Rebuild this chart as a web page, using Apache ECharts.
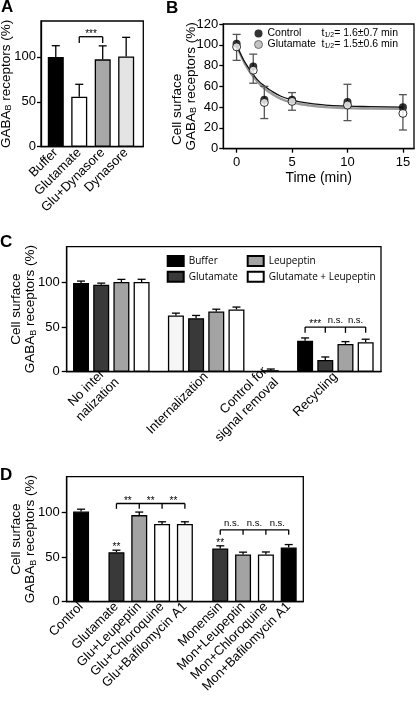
<!DOCTYPE html>
<html>
<head>
<meta charset="utf-8">
<script src="https://cdn.jsdelivr.net/npm/echarts@6.0.0/dist/echarts.min.js"></script>
<style>
html,body{margin:0;padding:0;background:#fff;}
#chart{width:416px;height:701px;}
</style>
</head>
<body>
<div id="chart"></div>
<script>
// ---------- Panel A ----------
const aCategories = ['Buffer', 'Glutamate', 'Glu+Dynasore', 'Dynasore'];
const aValues = [100, 55.7, 97.3, 100.5];
const aErrors = [12.5, 13.8, 15, 21.3];
const aSigLabels = ['***'];

// ---------- Panel B ----------
const bTimes = [0, 1.5, 2.5, 5, 10, 15];
const bControl = [101, 79, 47, 47, 45, 40];
const bGlutamate = [98, 75.5, 44.5, 45.5, 42, 34];
const bErrLow = [85, 63, 29, 37, 27, 18];
const bErrHigh = [110, 91, 60, 54, 62, 52];
const bFitTimes = [0, 0.5, 1, 1.5, 2, 2.5, 3, 4, 5, 6, 8, 10, 12, 15];
const bFitControl = [100, 88, 79, 71.5, 65, 60.5, 56.5, 50.5, 47, 44.5, 42, 41, 40.5, 40];
const bFitGlutamate = [100, 87, 77, 69.5, 63, 58, 54, 48, 44.5, 42.5, 40, 39, 38.7, 38.5];
const bSeriesNames = ['Control', 'Glutamate'];
const bHalfLives = ['1.6±0.7', '1.5±0.6'];
const bTimeTicks = [0, 5, 10, 15];
const bPercentTicks = [0, 20, 40, 60, 80, 100, 120];

// ---------- Panel C ----------
const cGroups = ['No inter-\nnalization', 'Internalization', 'Control for\nsignal removal', 'Recycling'];
const cSeriesNames = ['Buffer', 'Glutamate', 'Leupeptin', 'Glutamate + Leupeptin'];
const cBuffer = [99.3, 63, 1.7, 34.8];
const cGlutamate = [97.4, 60, null, 13.1];
const cLeupeptin = [100.4, 67.4, null, 31.1];
const cGluLeu = [100.5, 69.7, null, 33];
const cBufferErr = [2.2, 2.6, 1.3, 3];
const cGlutamateErr = [1.8, 3, null, 3.4];
const cLeupeptinErr = [3, 2.6, null, 2.6];
const cGluLeuErr = [3, 2.7, null, 3.4];
const cSigLabels = ['***', 'n.s.', 'n.s.'];

// ---------- Panel D ----------
const dGroups = [
  ['Control'],
  ['Glutamate', 'Glu+Leupeptin', 'Glu+Chloroquine', 'Glu+Bafilomycin A1'],
  ['Monensin', 'Mon+Leupeptin', 'Mon+Chloroquine', 'Mon+Bafilomycin A1']
];
const dValues = [101, 55.4, 97, 87, 87, 59.6, 52.8, 52.8, 60.7];
const dErrors = [2.6, 2.3, 3.4, 2.5, 2.5, 3, 2.7, 2.9, 3.3];
const dGluSigLabels = ['**', '**', '**'];
const dMonSigLabels = ['n.s.', 'n.s.', 'n.s.'];
const dBarSig = ['', '**', '', '', '', '**', '', '', ''];

const percentTicks = [0, 50, 100];

// ---------- styles ----------
const FONT = '"Liberation Sans", Arial, Helvetica, sans-serif';
const LW = 1.3;
const aColors = ['#000000', '#ffffff', '#a8a8a8', '#e4e4e4'];
const cColors = ['#000000', '#393939', '#a3a3a3', '#ffffff'];
const cLightBar = { series: 0, group: 1, color: '#f6f6f6' };
const dColors = ['#000000', '#393939', '#a3a3a3', '#ffffff', '#f8f8f8', '#393939', '#a3a3a3', '#ffffff', '#000000'];

// ---------- layout (positions along value axes) ----------
const aPos = aCategories.map((_, i) => i);

const C_GAP = 0.7;
const cVals = [cBuffer, cGlutamate, cLeupeptin, cGluLeu];
const cErrs = [cBufferErr, cGlutamateErr, cLeupeptinErr, cGluLeuErr];
const cPos = cVals.map(() => []);
const cGroupCenters = [];
const cGroupPositions = [];
let cx = 0;
cGroups.forEach((_, gi) => {
  const ps = [];
  cVals.forEach((vals, si) => {
    if (vals[gi] != null) { cPos[si][gi] = cx; ps.push(cx); cx += 1; }
  });
  cGroupPositions.push(ps);
  cGroupCenters.push((ps[0] + ps[ps.length - 1]) / 2);
  cx += C_GAP;
});

const D_GAP = 0.55;
const dCategories = [].concat(...dGroups);
const dPos = [];
const dGroupPositions = [];
let dx = 0;
dGroups.forEach(g => {
  const ps = [];
  g.forEach(() => { dPos.push(dx); ps.push(dx); dx += 1; });
  dGroupPositions.push(ps);
  dx += D_GAP;
});

// ---------- helpers ----------
function labelFor(positions, names) {
  return v => {
    const i = positions.findIndex(p => Math.abs(p - v) < 1e-6);
    return i >= 0 ? names[i] : '';
  };
}
const lineStyle = { color: '#000', width: LW };
const tickText = { fontSize: 13, fontFamily: FONT, color: '#000' };
const nameRich = {
  a: { fontSize: 13.5, fontFamily: FONT, color: '#000', lineHeight: 14 },
  c: { fontSize: 13.5, fontFamily: FONT, color: '#000', lineHeight: 14 },
  cb: { fontSize: 13.5, fontFamily: FONT, color: '#000', lineHeight: 14, padding: [0, 46, 0, 0] },
  s: { fontSize: 9, fontFamily: FONT, color: '#000', lineHeight: 5, verticalAlign: 'bottom' }
};
const gabaName = '{a|GABA}{s|B}{a| receptors (%)}';

function errSeries(gi, data, color, capBoth, z) {
  return {
    type: 'custom', xAxisIndex: gi, yAxisIndex: gi, data: data, silent: true, z: z || 3,
    encode: { x: 0, y: [1, 2] },
    renderItem(params, api) {
      const x = api.value(0);
      const p1 = api.coord([x, api.value(1)]);
      const p2 = api.coord([x, api.value(2)]);
      const hw = 4;
      const st = { stroke: color, lineWidth: LW };
      const ch = [
        { type: 'line', shape: { x1: p1[0], y1: p1[1], x2: p2[0], y2: p2[1] }, style: st },
        { type: 'line', shape: { x1: p2[0] - hw, y1: p2[1], x2: p2[0] + hw, y2: p2[1] }, style: st }
      ];
      if (capBoth) ch.push({ type: 'line', shape: { x1: p1[0] - hw, y1: p1[1], x2: p1[0] + hw, y2: p1[1] }, style: st });
      return { type: 'group', children: ch };
    }
  };
}

function textEl(x, y, t) {
  const isStar = t.indexOf('*') >= 0;
  return {
    type: 'text', x: x, y: y + (isStar ? -2.5 : -6.5),
    style: {
      text: t, fill: '#000', font: (isStar ? '10px ' : '9.5px ') + FONT,
      align: 'center', verticalAlign: 'middle', textAlign: 'center', textVerticalAlign: 'middle'
    }
  };
}

function bracketSeries(gi, brackets) {
  return {
    type: 'custom', xAxisIndex: gi, yAxisIndex: gi, silent: true, z: 4,
    data: brackets.map(b => [b.xs[0], b.y]),
    encode: { x: 0, y: 1 },
    renderItem(params, api) {
      const b = brackets[params.dataIndex];
      const top = b.xs.map(x => api.coord([x, b.y]));
      const bot = b.xs.map(x => api.coord([x, b.y - b.drop]));
      const st = { stroke: '#000', lineWidth: LW };
      const ch = [{ type: 'line', shape: { x1: top[0][0], y1: top[0][1], x2: top[top.length - 1][0], y2: top[0][1] }, style: st }];
      top.forEach((p, i) => ch.push({ type: 'line', shape: { x1: p[0], y1: p[1], x2: bot[i][0], y2: bot[i][1] }, style: st }));
      b.labels.forEach((t, i) => ch.push(textEl((top[i][0] + top[i + 1][0]) / 2, top[i][1], t)));
      return { type: 'group', children: ch };
    }
  };
}

function gridCfg(left, top, width, height) {
  return { left, top, width, height, show: true, borderColor: '#000', borderWidth: LW, backgroundColor: 'transparent', outerBoundsMode: 'none', containLabel: false };
}

function yCfg(gi, max, ticks, name, nameGap, tickLen, margin) {
  return {
    gridIndex: gi, type: 'value', min: 0, max: max,
    axisLine: { show: true, onZero: false, lineStyle },
    axisTick: { show: true, customValues: ticks, length: tickLen, lineStyle },
    axisLabel: Object.assign({ customValues: ticks, margin: margin }, tickText),
    splitLine: { show: false },
    name: name, nameLocation: 'middle', nameRotate: 90, nameGap: nameGap, nameMoveOverlap: false,
    nameTextStyle: { rich: nameRich }
  };
}

function xCatCfg(gi, min, max, positions, names, margin) {
  return {
    gridIndex: gi, type: 'value', min: min, max: max,
    axisLine: { show: true, onZero: false, lineStyle },
    axisTick: { show: false },
    splitLine: { show: false },
    axisLabel: Object.assign({ customValues: positions, formatter: labelFor(positions, names), rotate: 45, margin: margin, lineHeight: 16 }, tickText)
  };
}

// ---------- series ----------
const series = [];

// A
series.push({
  type: 'bar', name: 'A', xAxisIndex: 0, yAxisIndex: 0, barWidth: 16, barGap: '-100%',
  itemStyle: { borderColor: '#000', borderWidth: LW },
  data: aPos.map((x, i) => ({ value: [x, aValues[i]], itemStyle: { color: aColors[i] } }))
});
series.push(errSeries(0, aPos.map((x, i) => [x, aValues[i], aValues[i] + aErrors[i]]), '#000', false));
series.push(bracketSeries(0, [{ xs: [aPos[1], aPos[2]], y: 122.5, drop: 7, labels: aSigLabels }]));

// B
series.push({
  type: 'line', name: 'fitG', xAxisIndex: 1, yAxisIndex: 1, smooth: true, showSymbol: false, silent: true, z: 2,
  lineStyle: { color: '#9a9a9a', width: 2.4 },
  data: bFitTimes.map((t, i) => [t, bFitGlutamate[i]])
});
series.push({
  type: 'line', name: 'fitC', xAxisIndex: 1, yAxisIndex: 1, smooth: true, showSymbol: false, silent: true, z: 3,
  lineStyle: { color: '#111', width: 1.3 },
  data: bFitTimes.map((t, i) => [t, bFitControl[i]])
});
series.push(errSeries(1, bTimes.map((t, i) => [t, bErrLow[i], bErrHigh[i]]), '#555', true, 4));
series.push({
  type: 'scatter', name: 'bControl', xAxisIndex: 1, yAxisIndex: 1, symbol: 'circle', symbolSize: 8, z: 5,
  itemStyle: { color: '#000' },
  data: bTimes.map((t, i) => [t, bControl[i]])
});
series.push({
  type: 'scatter', name: 'bGlutamate', xAxisIndex: 1, yAxisIndex: 1, symbol: 'circle', symbolSize: 8, z: 6,
  itemStyle: { color: '#fff', borderColor: '#000', borderWidth: 1 },
  data: bTimes.map((t, i) => [t, bGlutamate[i]])
});

// C
cVals.forEach((vals, si) => {
  const data = [];
  vals.forEach((v, gi) => {
    if (v == null) return;
    const item = { value: [cPos[si][gi], v] };
    if (si === cLightBar.series && gi === cLightBar.group) item.itemStyle = { color: cLightBar.color };
    data.push(item);
  });
  series.push({
    type: 'bar', name: cSeriesNames[si], xAxisIndex: 2, yAxisIndex: 2, barWidth: 16, barGap: '-100%',
    itemStyle: { color: cColors[si], borderColor: '#000', borderWidth: LW },
    data: data
  });
  const edata = [];
  vals.forEach((v, gi) => { if (v != null) edata.push([cPos[si][gi], v, v + cErrs[si][gi]]); });
  series.push(errSeries(2, edata, '#000', false));
});
series.push(bracketSeries(2, [{ xs: cGroupPositions[3], y: 50, drop: 6.5, labels: cSigLabels }]));

// D
series.push({
  type: 'bar', name: 'D', xAxisIndex: 3, yAxisIndex: 3, barWidth: 16, barGap: '-100%',
  itemStyle: { borderColor: '#000', borderWidth: LW },
  data: dPos.map((x, i) => ({ value: [x, dValues[i]], itemStyle: { color: dColors[i] } }))
});
series.push(errSeries(3, dPos.map((x, i) => [x, dValues[i], dValues[i] + dErrors[i]]), '#000', false));
series.push(bracketSeries(3, [
  { xs: dGroupPositions[1], y: 110, drop: 6, labels: dGluSigLabels },
  { xs: dGroupPositions[2], y: 80.5, drop: 5.5, labels: dMonSigLabels }
]));
const dStarData = [];
dPos.forEach((x, i) => { if (dBarSig[i]) dStarData.push([x, dValues[i] + dErrors[i], i]); });
series.push({
  type: 'custom', xAxisIndex: 3, yAxisIndex: 3, silent: true, z: 4,
  data: dStarData, encode: { x: 0, y: 1 },
  renderItem(params, api) {
    const p = api.coord([api.value(0), api.value(1)]);
    return textEl(p[0], p[1], dBarSig[api.value(2)]);
  }
});

// ---------- option ----------
const bRich = {
  n: { width: 54, fontSize: 10.5, fontFamily: FONT, color: '#000', lineHeight: 11 },
  t: { fontSize: 10.5, fontFamily: FONT, color: '#000', lineHeight: 11 },
  s: { fontSize: 7, fontFamily: FONT, color: '#000', lineHeight: 3, verticalAlign: 'bottom' },
  v: { fontSize: 10.5, fontFamily: FONT, color: '#000', lineHeight: 11 }
};
const bLegendKeys = ['bControl', 'bGlutamate'];

const option = {
  animation: false,
  backgroundColor: '#fff',
  grid: [
    gridCfg(41, 21, 102.3, 125.7),
    gridCfg(223.3, 24, 190.7, 124.7),
    gridCfg(66.7, 246.7, 314.3, 125),
    gridCfg(66.7, 476.7, 236.6, 125)
  ],
  xAxis: [
    xCatCfg(0, -0.63, 3.73, aPos, aCategories, 4),
    {
      gridIndex: 1, type: 'value', min: -1.2, max: 16,
      axisLine: { show: true, onZero: false, lineStyle },
      axisTick: { show: true, customValues: bTimeTicks, length: 4, lineStyle },
      axisLabel: Object.assign({ customValues: bTimeTicks, margin: 7 }, tickText),
      splitLine: { show: false },
      name: 'Time (min)', nameLocation: 'middle', nameGap: 22, nameMoveOverlap: false,
      nameTextStyle: { fontSize: 14, fontFamily: FONT, color: '#000' }
    },
    xCatCfg(2, -0.71, 14.86, cGroupCenters, cGroups, 3),
    xCatCfg(3, -0.63, 9.74, dPos, dCategories, 3)
  ],
  yAxis: [
    yCfg(0, 140, percentTicks, gabaName, 27.5, 4, 5),
    yCfg(1, 120, bPercentTicks, '{cb|Cell surface}\n' + gabaName, 25, 4, 5),
    yCfg(2, 140, percentTicks, '{c|Cell surface}\n' + gabaName, 29, 5, 7),
    yCfg(3, 140, percentTicks, '{c|Cell surface}\n' + gabaName, 29, 5, 7)
  ],
  legend: [
    {
      left: 254, top: 28, padding: 0, orient: 'vertical', itemWidth: 8, itemHeight: 8, itemGap: 0, selectedMode: false,
      data: [
        { name: 'bControl', icon: 'circle', itemStyle: { color: '#000', borderWidth: 0 } },
        { name: 'bGlutamate', icon: 'circle', itemStyle: { color: '#b4b4b4', borderColor: '#555', borderWidth: 1 } }
      ],
      formatter: name => {
        const i = bLegendKeys.indexOf(name);
        return '{n|' + bSeriesNames[i] + '}{t|t}{s|1/2}{v|= ' + bHalfLives[i] + ' min}';
      },
      textStyle: { rich: bRich }
    },
    {
      left: 166.7, top: 254.5, padding: 0, orient: 'vertical', itemWidth: 16, itemHeight: 10, itemGap: 2.7, icon: 'rect', selectedMode: false,
      data: [cSeriesNames[0], cSeriesNames[1]],
      textStyle: { fontFamily: '"Open Sans", sans-serif', fontSize: 10, color: '#000', lineHeight: 13 }
    },
    {
      left: 246.7, top: 254.5, padding: 0, orient: 'vertical', itemWidth: 16, itemHeight: 10, itemGap: 2.7, icon: 'rect', selectedMode: false,
      data: [cSeriesNames[2], cSeriesNames[3]],
      textStyle: { fontFamily: '"Open Sans", sans-serif', fontSize: 10, color: '#000', lineHeight: 13 }
    }
  ],
  graphic: [
    { type: 'text', left: 1, top: -1, style: { text: 'A', font: 'bold 17px ' + FONT, fill: '#000' } },
    { type: 'text', left: 166, top: 0, style: { text: 'B', font: 'bold 17px ' + FONT, fill: '#000' } },
    { type: 'text', left: 0, top: 234, style: { text: 'C', font: 'bold 17px ' + FONT, fill: '#000' } },
    { type: 'text', left: 0, top: 467, style: { text: 'D', font: 'bold 17px ' + FONT, fill: '#000' } }
  ],
  series: series
};

const chart = echarts.init(document.getElementById('chart'), null, { renderer: 'canvas' });
chart.setOption(option);
</script>
</body>
</html>
